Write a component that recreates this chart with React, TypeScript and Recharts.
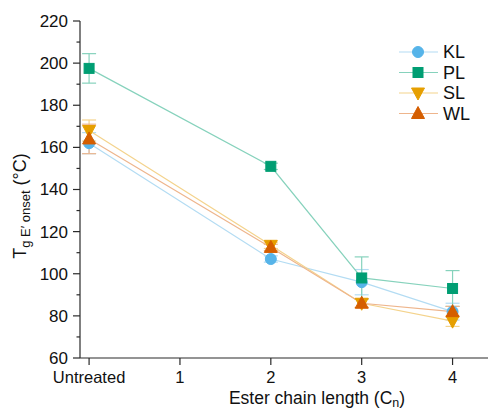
import React from 'react';
import { LineChart, Line, XAxis, YAxis, ErrorBar, Legend, Label } from 'recharts';

// ester chain length (0 = untreated)
const chainLengths = [0, 2, 3, 4];
const xTicks = [0, 1, 2, 3, 4];
const yTicks = [60, 70, 80, 90, 100, 110, 120, 130, 140, 150, 160, 170, 180, 190, 200, 210, 220];

// Tg E' onset (°C) and error
const klValues = [162, 107, 96, 82];
const klErrors = [5, 1.5, 6, 4];
const plValues = [197.5, 151, 98, 93];
const plErrors = [7, 1.5, 10, 8.5];
const slValues = [168, 113.5, 86, 77.5];
const slErrors = [5, 1.5, 2, 2.5];
const wlValues = [164, 112.5, 86, 82];
const wlErrors = [7, 1.5, 2, 2.5];

const FONT = '"Liberation Sans", Arial, sans-serif';
const AXIS_X = 80;
const AXIS_COLOR = '#2a2a2a';

const series = [
  { name: 'KL', shape: 'circle', color: '#56B4E9', light: '#b3dcf3' },
  { name: 'PL', shape: 'square', color: '#009E73', light: '#86d2bc' },
  { name: 'SL', shape: 'down', color: '#E69F00', light: '#f4d38c' },
  { name: 'WL', shape: 'up', color: '#D55E00', light: '#eeb58c' },
];

const chartData = chainLengths.map((x, i) => ({
  x,
  KL: klValues[i],
  KLe: klErrors[i],
  PL: plValues[i],
  PLe: plErrors[i],
  SL: slValues[i],
  SLe: slErrors[i],
  WL: wlValues[i],
  WLe: wlErrors[i],
}));

function marker(shape: string, cx: number, cy: number, color: string, key?: string) {
  if (shape === 'circle') return <circle key={key} cx={cx} cy={cy} r={5.5} fill={color} stroke={color} />;
  if (shape === 'square')
    return <rect key={key} x={cx - 5} y={cy - 5} width={10} height={10} fill={color} stroke={color} />;
  if (shape === 'up')
    return (
      <polygon key={key} points={`${cx},${cy - 7} ${cx - 6.5},${cy + 5} ${cx + 6.5},${cy + 5}`} fill={color} stroke={color} />
    );
  return (
    <polygon key={key} points={`${cx},${cy + 7} ${cx - 6.5},${cy - 5} ${cx + 6.5},${cy - 5}`} fill={color} stroke={color} />
  );
}

const YTick = (props: any) => {
  const { y, payload } = props;
  const major = payload.value % 20 === 0;
  return (
    <g>
      <line x1={AXIS_X - (major ? 7 : 3.5)} x2={AXIS_X} y1={y} y2={y} stroke={AXIS_COLOR} strokeWidth={1.2} />
      {major && (
        <text x={AXIS_X - 12} y={y} dy="0.35em" textAnchor="end" fontSize={17} fontFamily={FONT} fill="#111">
          {payload.value}
        </text>
      )}
    </g>
  );
};

const renderLegend = () => (
  <svg width={90} height={84}>
    {series.map((s, i) => (
      <g key={s.name} transform={`translate(0, ${10 + i * 20.5})`}>
        <line x1={0} x2={39} y1={0} y2={0} stroke={s.light} strokeWidth={1.2} />
        {marker(s.shape, 19, 0, s.color)}
        <text x={44} y={0} dy="0.36em" fontSize={18} fontFamily={FONT} fill="#111">
          {s.name}
        </text>
      </g>
    ))}
  </svg>
);

export default function App() {
  return (
    <div style={{ width: 488, height: 411, background: '#fff' }}>
      <style>{'body{margin:0}'}</style>
      <LineChart width={488} height={411} data={chartData} margin={{ top: 21, right: 0, left: 0, bottom: 0 }}>
        <XAxis
          dataKey="x"
          type="number"
          domain={[-0.1, 4.39]}
          ticks={xTicks}
          interval={0}
          allowDataOverflow
          height={53}
          tickSize={7}
          tickMargin={6}
          stroke={AXIS_COLOR}
          strokeWidth={1.2}
          tick={{ fontSize: 16.5, fontFamily: FONT, fill: '#111' }}
          tickFormatter={(v: number) => (v === 0 ? 'Untreated' : String(v))}
        >
          <Label
            content={() => (
              <text x={317} y={404} textAnchor="middle" fontSize={17.5} fontFamily={FONT} fill="#111">
                Ester chain length (C
                <tspan fontSize={12.5} dy={3}>n</tspan>
                <tspan dy={-3}>)</tspan>
              </text>
            )}
          />
        </XAxis>
        <YAxis
          type="number"
          domain={[60, 220]}
          ticks={yTicks}
          interval={0}
          width={AXIS_X}
          tickLine={false}
          stroke={AXIS_COLOR}
          strokeWidth={1.2}
          tick={<YTick />}
        >
          <Label
            content={() => (
              <text
                x={26}
                y={206}
                transform="rotate(-90, 26, 206)"
                textAnchor="middle"
                fontSize={18}
                fontFamily={FONT}
                fill="#111"
              >
                T<tspan fontSize={13} dy={4}>g E′ onset</tspan>
                <tspan dy={-4}> (°C)</tspan>
              </text>
            )}
          />
        </YAxis>
        <Legend
          content={renderLegend}
          layout="horizontal"
          verticalAlign="middle"
          align="center"
          wrapperStyle={{ left: 399, top: 42, width: 90 }}
        />
        {series.map((s) => (
          <Line
            key={s.name}
            dataKey={s.name}
            stroke={s.light}
            strokeWidth={1.2}
            isAnimationActive={false}
            dot={(p: any) => marker(s.shape, p.cx, p.cy, s.color, `${s.name}-${p.index}`)}
            activeDot={false}
          >
            <ErrorBar dataKey={`${s.name}e`} width={7} stroke={s.light} strokeWidth={1.2} direction="y" isAnimationActive={false} />
          </Line>
        ))}
      </LineChart>
    </div>
  );
}
